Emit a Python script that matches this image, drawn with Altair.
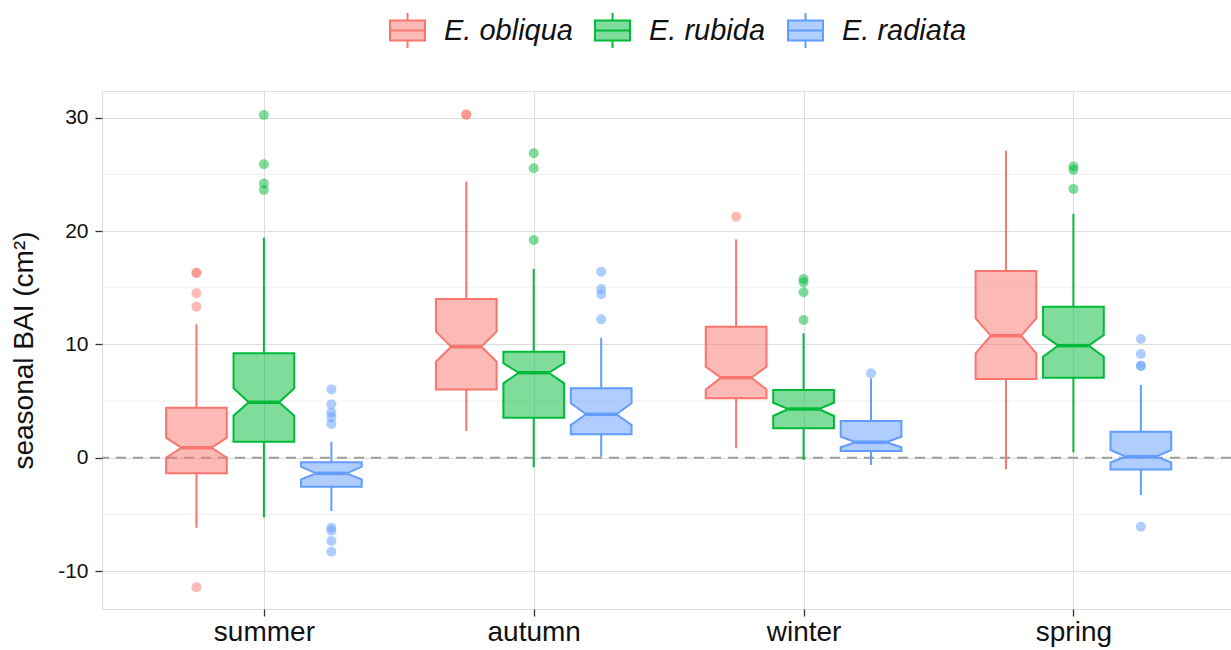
import json
import altair as alt
import pandas as pd

# ---------------- data ----------------
seasons = ["summer", "autumn", "winter", "spring"]
species = ["E. obliqua", "E. rubida", "E. radiata"]
colors = ["#F8766D", "#00BA38", "#619CFF"]

# per species, one value per season (summer, autumn, winter, spring)
q1 = {
    "E. obliqua": [-1.38, 6.03, 5.24, 6.95],
    "E. rubida": [1.41, 3.53, 2.59, 7.06],
    "E. radiata": [-2.56, 2.06, 0.59, -1.03],
}
median = {
    "E. obliqua": [0.88, 9.80, 7.06, 10.77],
    "E. rubida": [4.89, 7.50, 4.30, 9.89],
    "E. radiata": [-1.38, 3.83, 1.36, 0.09],
}
q3 = {
    "E. obliqua": [4.41, 14.00, 11.56, 16.48],
    "E. rubida": [9.21, 9.36, 5.97, 13.33],
    "E. radiata": [-0.41, 6.12, 3.24, 2.30],
}
notch_lo = {
    "E. obliqua": [0.00, 8.47, 6.03, 9.21],
    "E. rubida": [3.71, 6.56, 3.68, 8.91],
    "E. radiata": [-1.91, 2.89, 0.92, -0.41],
}
notch_hi = {
    "E. obliqua": [1.77, 11.12, 8.03, 12.30],
    "E. rubida": [6.12, 8.33, 4.85, 10.83],
    "E. radiata": [-0.79, 4.80, 1.85, 0.68],
}
whisker_lo = {
    "E. obliqua": [-6.18, 2.36, 0.83, -1.03],
    "E. rubida": [-5.26, -0.85, -0.20, 0.47],
    "E. radiata": [-4.70, 0.09, -0.64, -3.29],
}
whisker_hi = {
    "E. obliqua": [11.77, 24.36, 19.27, 27.10],
    "E. rubida": [19.42, 16.65, 10.98, 21.51],
    "E. radiata": [1.41, 10.59, 7.00, 6.42],
}
outliers = {
    "E. obliqua": [[16.27, 16.35, 14.51, 13.33, -11.44], [30.25, 30.30], [21.27], []],
    "E. rubida": [[30.25, 25.90, 24.20, 23.63], [26.87, 25.54, 19.21],
                  [15.77, 15.48, 14.60, 12.15], [25.70, 25.40, 23.72]],
    "E. radiata": [[6.03, 4.71, 4.00, 3.56, 2.97, -6.18, -6.44, -7.35, -8.29],
                   [16.42, 14.89, 14.42, 12.21], [7.45],
                   [10.48, 9.15, 8.09, 8.12, -6.09]],
}
y_breaks = [-10, 0, 10, 20, 30]
y_minor = [-5, 5, 15, 25]
ref_line = [0]

# ---------------- layout constants ----------------
DODGE = 0.25
HALF = 0.1125
INSET = HALF * 0.5


def half_tint(hex_color):
    # colour at 50 % alpha over white (for the legend keys)
    h = hex_color.lstrip("#")
    rgb = [int(h[k:k + 2], 16) for k in (0, 2, 4)]
    return "#" + "".join(f"{round((c + 255) / 2):02X}" for c in rgb)


tints = [half_tint(c) for c in colors]

poly, boxes, pts = [], [], []
for j, sp in enumerate(species):
    for i, season in enumerate(seasons):
        cx = i + 1 + (j - 1) * DODGE
        xl, xr = cx - HALF, cx + HALF
        bid = f"{sp}-{season}"
        a, nl, m, nh, b = q1[sp][i], notch_lo[sp][i], median[sp][i], notch_hi[sp][i], q3[sp][i]
        for yv, l, r in [(a, xl, xr), (nl, xl, xr), (m, xl + INSET, xr - INSET),
                         (nh, xl, xr), (b, xl, xr)]:
            poly.append({"box": bid, "species": sp, "y": yv, "xl": l, "xr": r})
        boxes.append({"box": bid, "species": sp, "cx": cx,
                      "ml": xl + INSET, "mr": xr - INSET,
                      "q1": a, "q3": b, "med": m,
                      "wlo": whisker_lo[sp][i], "whi": whisker_hi[sp][i]})
        for v in outliers[sp][i]:
            pts.append({"species": sp, "cx": cx, "y": v})

poly_df = pd.DataFrame(poly)
box_df = pd.DataFrame(boxes)
pt_df = pd.DataFrame(pts)

FONT = "Liberation Sans"
xscale = alt.Scale(domain=[0.4, 4.584], nice=False, zero=False)
yscale = alt.Scale(domain=[-13.35, 32.36], nice=False, zero=False)
# stroke (lines) and legend-key fill use the species order
sscale = alt.Scale(domain=species, range=colors)
tscale = alt.Scale(domain=species, range=tints)
# colour of translucent box / point fills (same mapping, listed in reverse)
cscale = alt.Scale(domain=species[::-1], range=colors[::-1])

xaxis = alt.Axis(values=[1, 2, 3, 4], title=None, grid=True,
                 labelExpr=json.dumps(seasons) + "[datum.value - 1]",
                 labelFontSize=28, labelColor="#111111", labelFont=FONT,
                 tickSize=7, tickWidth=1.3, tickColor="#333333",
                 labelPadding=2, domain=False)
yaxis = alt.Axis(values=y_breaks, title="seasonal BAI (cm²)", grid=True,
                 labelExpr="datum.value < 0 ? '-' + abs(datum.value) : '' + datum.value",
                 labelFontSize=21, labelColor="#111111", labelFont=FONT,
                 titleFontSize=28, titleFont=FONT, titleFontWeight="normal",
                 titleColor="#111111", titlePadding=19,
                 tickSize=7, tickWidth=1.3, tickColor="#333333",
                 labelPadding=7, domain=False)

legend = alt.Legend(title=None, orient="none", legendX=287, legendY=-79,
                    direction="horizontal",
                    symbolType="M-1,-0.57H1V0.57H-1Z M-1,0H1 M0,-0.57V-1 M0,0.57V1",
                    symbolSize=1225, symbolStrokeWidth=2,
                    labelFontSize=29, labelFontStyle="italic", labelFont=FONT,
                    labelColor="#111111", labelOffset=18, columnPadding=18)

stroke = alt.Stroke("species:N", scale=sscale, legend=legend)
key_fill = alt.Fill("species:N", scale=tscale, legend=legend)
color = alt.Color("species:N", scale=cscale, legend=None)

minor_grid = alt.Chart(pd.DataFrame({"v": y_minor})).mark_rule(
    color="#EFEFEF", strokeWidth=0.9
).encode(y=alt.Y("v:Q", scale=yscale, axis=yaxis))

zero_line = alt.Chart(pd.DataFrame({"v": ref_line})).mark_rule(
    color="#9E9E9E", strokeWidth=1.9, strokeDash=[10, 7]
).encode(y=alt.Y("v:Q", scale=yscale, axis=yaxis))

box_area = alt.Chart(poly_df).mark_area(
    orient="horizontal", fillOpacity=0.5, strokeWidth=2, interpolate="linear"
).encode(
    y=alt.Y("y:Q", scale=yscale, axis=yaxis),
    x=alt.X("xl:Q", scale=xscale, axis=xaxis, stack=None),
    x2="xr:Q",
    color=color,
    stroke=stroke,
    detail="box:N",
)

whisk_hi = alt.Chart(box_df).mark_rule(strokeWidth=2).encode(
    x=alt.X("cx:Q", scale=xscale, axis=xaxis),
    y=alt.Y("q3:Q", scale=yscale, axis=yaxis), y2="whi:Q",
    stroke=stroke)
whisk_lo = alt.Chart(box_df).mark_rule(strokeWidth=2).encode(
    x=alt.X("cx:Q", scale=xscale, axis=xaxis),
    y=alt.Y("wlo:Q", scale=yscale, axis=yaxis), y2="q1:Q",
    stroke=stroke)

med = alt.Chart(box_df).mark_rule(strokeWidth=3.5).encode(
    x=alt.X("ml:Q", scale=xscale, axis=xaxis), x2="mr:Q",
    y=alt.Y("med:Q", scale=yscale, axis=yaxis),
    stroke=stroke)

# zero-size marks whose only job is to give the legend keys their light fill
key_layer = alt.Chart(box_df).mark_circle(size=0).encode(
    x=alt.X("cx:Q", scale=xscale, axis=xaxis),
    y=alt.Y("med:Q", scale=yscale, axis=yaxis),
    fill=key_fill)

points = alt.Chart(pt_df).mark_circle(size=100, fillOpacity=0.5).encode(
    x=alt.X("cx:Q", scale=xscale, axis=xaxis),
    y=alt.Y("y:Q", scale=yscale, axis=yaxis),
    color=color)

chart = alt.layer(minor_grid, zero_line, box_area, whisk_hi, whisk_lo,
                  med, key_layer, points).properties(
    width=1129, height=518,
    padding={"left": 102, "top": 91, "right": 0, "bottom": 41},
    autosize=alt.AutoSizeParams(type="none"),
).configure_view(
    stroke="#333333", strokeWidth=1.3
).configure_axis(
    gridColor="#EBEBEB", gridWidth=1.5
).configure(background="white")

chart.save("out.html", embed_options={"renderer": "svg", "actions": False})
